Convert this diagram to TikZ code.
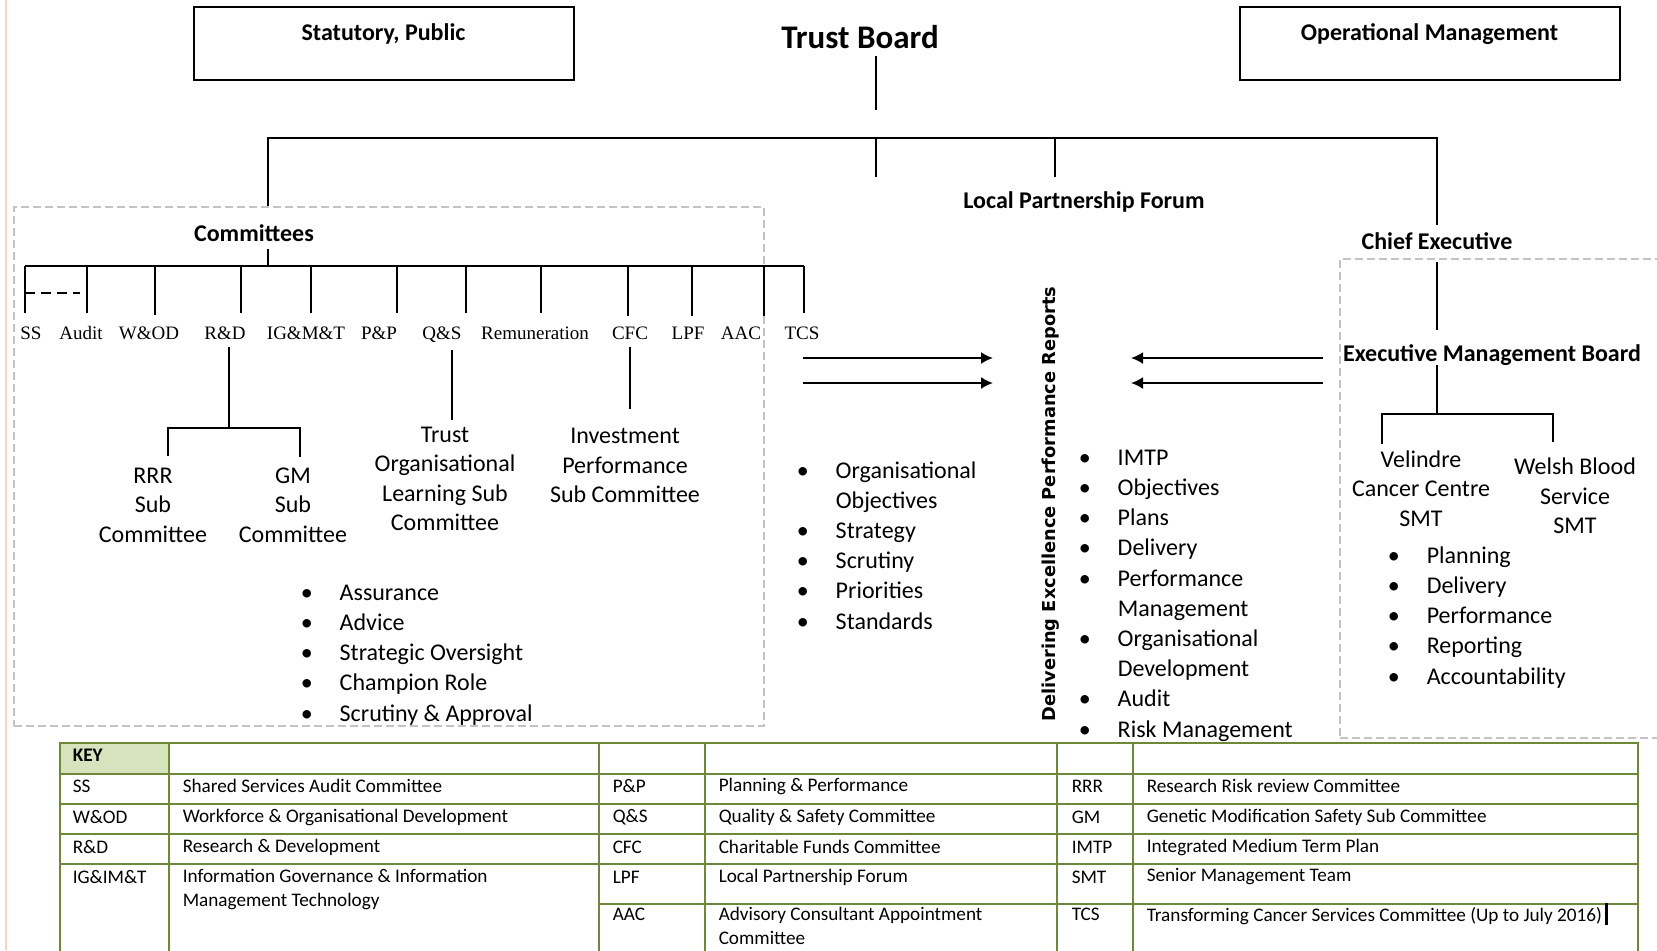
\documentclass[tikz,border=0pt]{standalone}
\usepackage{fontspec}
\setmainfont{Carlito}
\newfontfamily\abbrfont{Liberation Serif}
\newfontfamily\sidefont{DejaVu Sans}
\usetikzlibrary{arrows.meta,positioning}

\definecolor{keygreen}{RGB}{214,227,188}
\definecolor{keyline}{RGB}{110,136,58}
\definecolor{dashgrey}{RGB}{195,195,195}
\definecolor{edgeorange}{RGB}{250,212,185}

% bullet line and its continuation line
\newcommand{\itm}[1]{\makebox[0pt]{\textbullet}\hspace*{16.5pt}#1}
\newcommand{\cnt}[1]{\hspace*{16.5pt}#1}

\tikzset{
  headbox/.style={draw, line width=1pt, minimum width=190pt, minimum height=36.5pt, inner ysep=6pt,
    text height=10.5pt, text depth=14pt, font=\fontsize{12}{14.7}\selectfont\bfseries},
  hdr/.style={font=\fontsize{12}{14.7}\selectfont\bfseries},
  subnode/.style={align=center, font=\fontsize{12}{14.7}\selectfont},
  abbr/.style={anchor=base, font=\abbrfont\fontsize{9.5}{11}\selectfont},
  % placed by the baseline of the last line
  blist/.style={align=left, anchor=base west, inner sep=0pt, font=\fontsize{12}{15.1}\selectfont},
  dashbox/.style={draw=dashgrey, dash pattern=on 4pt off 2pt, line width=0.6pt, inner sep=0pt},
  arr/.style={-{Latex[length=6pt,width=6pt]}, line width=1pt},
  keytext/.style={anchor=west, inner sep=0pt, align=left, font=\fontsize{9.6}{12}\selectfont},
}

\begin{document}
\begin{tikzpicture}[x=0.5pt, y=-0.5pt, line width=0.75pt, every node/.style={font=\fontsize{12}{14.7}\selectfont}]
\useasboundingbox (0,0) rectangle (1657,950);
\clip (0,0) rectangle (1657,950);

% margin rule
\draw[edgeorange, line width=1pt] (6,0) -- (6,950);

% board level
\node[font=\fontsize{16.5}{20}\selectfont\bfseries] (board) at (860,37) {Trust Board};
\node[headbox] (stat) at (383.5,43.5) {Statutory, Public};
\node[headbox] (ops) at (1429.5,43.5) {Operational Management};
\node[hdr] (lpf) at (1084,202) {Local Partnership Forum};
\node[hdr] (ceo) at (1437,241) {Chief Executive};
\node[dashbox, minimum width=375pt, minimum height=259.5pt] (commbox) at (389,466.5) {};
\node[dashbox, minimum width=165pt, minimum height=239.5pt] (exbox) at (1505,498.5) {};

\coordinate (stem) at (876,110);
\coordinate (bar-l) at (268,138);
\coordinate (bar-r) at (1437,138);
\coordinate (lpf-stem) at (1055,177);
\draw (board.south -| stem) -- (stem);
\draw (bar-l |- commbox.north) -- (bar-l) -- (bar-r) -- (ceo.north);
\draw (stem |- bar-l) -- ++(0,39);
\draw (lpf-stem |- bar-l) -- (lpf-stem);

% committees
\node[hdr] (comm) at (254,233) {Committees};
\coordinate (cbar) at (25,266);
\draw (bar-l |- comm.south) -- (bar-l |- cbar);
\draw (cbar) -- (804,266)
  (25,266) -- (25,313) (87,266) -- (87,313) (155,266) -- (155,315)
  (241,266) -- (241,313) (311,266) -- (311,313) (397,266) -- (397,313)
  (466,266) -- (466,313) (541,266) -- (541,313) (628,266) -- (628,316)
  (692,266) -- (692,316) (764,266) -- (764,316) (804,266) -- (804,313);
\draw[dash pattern=on 5pt off 3pt] (25,293) -- (80,293);

\node[abbr] (ss) at (31,339) {SS};
\node[abbr] (audit) at (81,339) {Audit};
\node[abbr] (wod) at (149,339) {W\&OD};
\node[abbr] (rd) at (225,339) {R\&D};
\node[abbr] (igmt) at (306,339) {IG\&M\&T};
\node[abbr] (pp) at (379,339) {P\&P};
\node[abbr] (qs) at (442,339) {Q\&S};
\node[abbr] (rem) at (535,339) {Remuneration};
\node[abbr] (cfc) at (630,339) {CFC};
\node[abbr] (lpfc) at (688,339) {LPF};
\node[abbr] (aac) at (741,339) {AAC};
\node[abbr] (tcs) at (802,339) {TCS};

% sub committees
\node[subnode] (rrr) at (153,505) {RRR\\Sub\\Committee};
\node[subnode] (gm) at (293,505) {GM\\Sub\\Committee};
\node[subnode] (tol) at (445,479) {Trust\\Organisational\\Learning Sub\\Committee};
\node[subnode] (ips) at (625,465.5) {Investment\\Performance\\Sub Committee};
\coordinate (rd-fork) at (229,428);
\draw ([xshift=2pt]rd.south) -- (rd-fork);
\draw (168,456) |- (300,428) -- (300,457);
\draw ([xshift=5pt]qs.south) -- ([xshift=5pt]qs.south |- tol.north);
\draw (cfc.south) -- ([yshift=6pt]cfc.south |- ips.north);

\node[blist] (roles) at (306,721) {\itm{Assurance}\\\itm{Advice}\\\itm{Strategic Oversight}\\\itm{Champion Role}\\\itm{Scrutiny \& Approval}};

% reports in the middle
\node[blist] (aims) at (802,629) {\itm{Organisational}\\\cnt{Objectives}\\\itm{Strategy}\\\itm{Scrutiny}\\\itm{Priorities}\\\itm{Standards}};
\node[rotate=90, font=\sidefont\bfseries\fontsize{8.9}{10}\selectfont] (der) at (1051,504) {Delivering Excellence Performance Reports};
\node[blist] (topics) at (1084,737) {\itm{IMTP}\\\itm{Objectives}\\\itm{Plans}\\\itm{Delivery}\\\itm{Performance}\\\cnt{Management}\\\itm{Organisational}\\\cnt{Development}\\\itm{Audit}\\\itm{Risk Management}};
\draw[arr] (803,358) -- (993,358);
\draw[arr] (803,383) -- (993,383);
\draw[arr] (1323,358) -- (1131,358);
\draw[arr] (1323,383) -- (1131,383);

% executive side
\node[hdr] (emb) at (1492,355) {Executive Management Board};
\coordinate (ex-fork) at (1437,414);
\draw (1437,262) -- (1437,330);
\draw (1437,365) -- (ex-fork);
\draw (1382,444) |- (1553,414) -- (1553,442);
\node[subnode] (vcc) at (1421,488.5) {Velindre\\Cancer Centre\\SMT};
\node[subnode] (wbs) at (1575,496) {Welsh Blood\\Service\\SMT};
\node[blist] (duties) at (1393,684) {\itm{Planning}\\\itm{Delivery}\\\itm{Performance}\\\itm{Reporting}\\\itm{Accountability}};

% key table
\fill[keygreen] (60,743) rectangle (169,774);
\draw[keyline, line width=1pt] (60,743) rectangle (1638,960)
  (60,774) -- (1638,774) (60,804) -- (1638,804) (60,834) -- (1638,834)
  (60,864) -- (1638,864) (599,904) -- (1638,904)
  (169,743) -- (169,960) (599,743) -- (599,960) (705,743) -- (705,960)
  (1057,743) -- (1057,960) (1133,743) -- (1133,960);

\node[keytext, font=\fontsize{9.6}{12}\selectfont\bfseries] (key) at (72,755) {KEY};
\node[keytext] (k-ss) at (72,786) {SS};
\node[keytext] (k-ssd) at (182,786) {Shared Services Audit Committee};
\node[keytext] (k-pp) at (612,786) {P\&P};
\node[keytext] (k-ppd) at (718,786) {Planning \& Performance};
\node[keytext] (k-rrr) at (1071,786) {RRR};
\node[keytext] (k-rrrd) at (1146,786) {Research Risk review Committee};
\node[keytext] (k-wod) at (72,817) {W\&OD};
\node[keytext] (k-wodd) at (182,817) {Workforce \& Organisational Development};
\node[keytext] (k-qs) at (612,817) {Q\&S};
\node[keytext] (k-qsd) at (718,817) {Quality \& Safety Committee};
\node[keytext] (k-gm) at (1071,817) {GM};
\node[keytext] (k-gmd) at (1146,817) {Genetic Modification Safety Sub Committee};
\node[keytext] (k-rd) at (72,847) {R\&D};
\node[keytext] (k-rdd) at (182,847) {Research \& Development};
\node[keytext] (k-cfc) at (612,847) {CFC};
\node[keytext] (k-cfcd) at (718,847) {Charitable Funds Committee};
\node[keytext] (k-imtp) at (1071,847) {IMTP};
\node[keytext] (k-imtpd) at (1146,847) {Integrated Medium Term Plan};
\node[keytext] (k-ig) at (72,877) {IG\&IM\&T};
\node[keytext] (k-igd) at (182,889) {Information Governance \& Information\\Management Technology};
\node[keytext] (k-lpf) at (612,877) {LPF};
\node[keytext] (k-lpfd) at (718,877) {Local Partnership Forum};
\node[keytext] (k-smt) at (1071,877) {SMT};
\node[keytext] (k-smtd) at (1146,877) {Senior Management Team};
\node[keytext] (k-aac) at (612,914) {AAC};
\node[keytext] (k-aacd) at (718,926) {Advisory Consultant Appointment\\Committee};
\node[keytext] (k-tcs) at (1071,914) {TCS};
\node[keytext] (k-tcsd) at (1146,914) {Transforming Cancer Services Committee (Up to July 2016)\,\rule[-2pt]{1.2pt}{11pt}};
\end{tikzpicture}
\end{document}
